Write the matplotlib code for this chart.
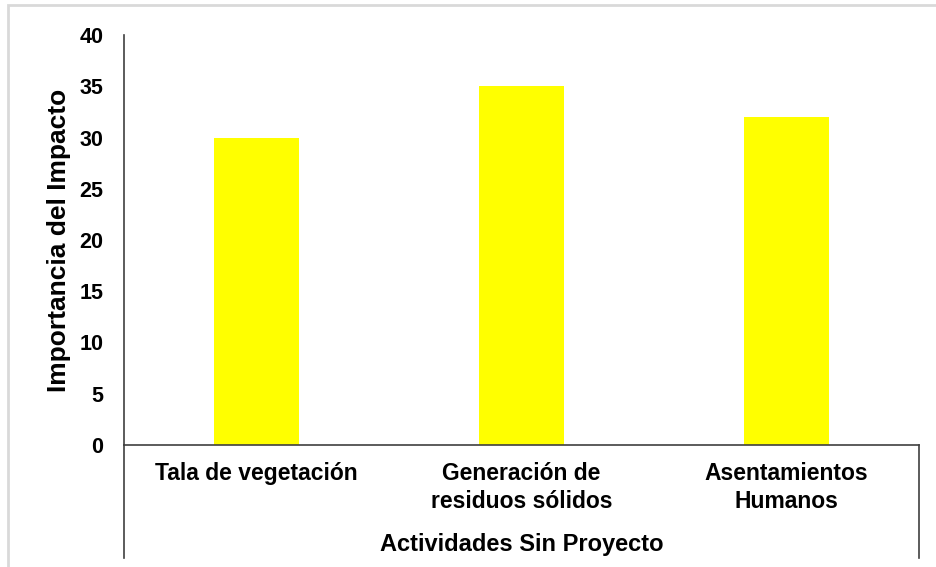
import matplotlib
matplotlib.use('Agg')
import matplotlib.pyplot as plt
from matplotlib.lines import Line2D
from matplotlib.patches import Rectangle

categories = ["Tala de vegetación", "Generación de\nresiduos sólidos", "Asentamientos\nHumanos"]
values = [30, 35, 32]
y_ticks = [0, 5, 10, 15, 20, 25, 30, 35, 40]

plt.rcParams['font.family'] = ['Liberation Sans', 'DejaVu Sans']
plt.rcParams['font.weight'] = 'bold'

W, H = 936, 567
fig = plt.figure(figsize=(W / 100, H / 100), dpi=100)
fig.patch.set_facecolor('white')

# plot area in pixels: x 124..919, y 35..445
ax = fig.add_axes([124 / W, 1 - 445 / H, (919 - 124) / W, (445 - 35) / H])

x = list(range(len(categories)))
ax.bar(x, values, width=0.317, color='#FFFF00', zorder=2)

ax.set_xlim(-0.5, len(categories) - 0.5)
ax.set_ylim(0, 40)
ax.set_yticks(y_ticks)
ax.set_yticklabels([str(t) for t in y_ticks], fontsize=15.5, fontweight='bold')
ax.set_xticks(x)
ax.set_xticklabels(categories, fontsize=16.5, fontweight='bold', linespacing=1.3, va='top')
ax.tick_params(axis='y', length=0, pad=15)
ax.tick_params(axis='x', length=0, pad=12)

for side in ['top', 'right']:
    ax.spines[side].set_visible(False)
ax.spines['left'].set_color('#404040')
ax.spines['bottom'].set_color('#404040')
ax.spines['left'].set_linewidth(1.2)
ax.spines['bottom'].set_linewidth(1.2)

# category axis box lines running down below the plot area
ext = -(558 - 445) / (445 - 35)
for xv in (0, 1):
    ax.add_line(Line2D([xv, xv], [0, ext], transform=ax.transAxes,
                       color='#404040', lw=1.2, clip_on=False))

ax.set_ylabel("Importancia del Impacto", fontsize=19, fontweight='bold', va='center')
ax.yaxis.set_label_coords(-(124 - 59) / (919 - 124), 0.5)
fig.text((124 + 919) / 2 / W, 1 - 545 / H, "Actividades Sin Proyecto",
         ha='center', va='center', fontsize=17, fontweight='bold')

# outer chart border
fig.add_artist(Rectangle((8 / W, -0.05), 1.1, 1 - 5 / H + 0.05, transform=fig.transFigure,
                         fill=False, edgecolor='#d9d9d9', lw=2))

fig.savefig('out.png', dpi=100)
